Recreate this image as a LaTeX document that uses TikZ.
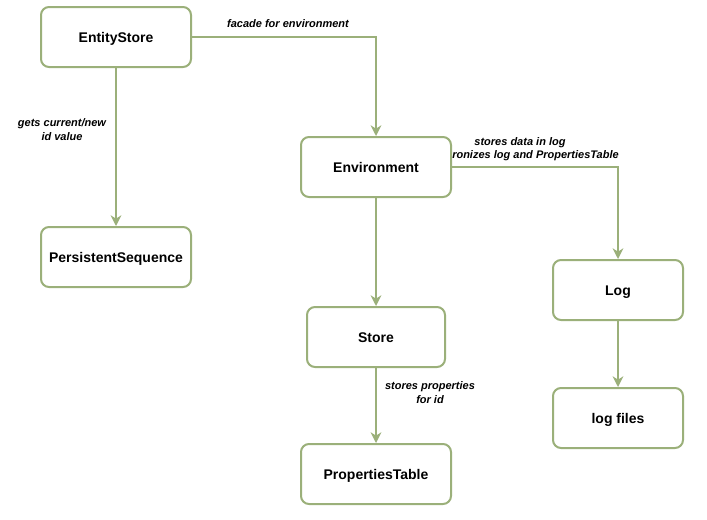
\documentclass[tikz,border=0pt]{standalone}
\usepackage{fontspec}
\setmainfont{Liberation Sans}
\usepackage{xcolor}
\usetikzlibrary{arrows.meta,positioning}

\definecolor{boxgreen}{RGB}{155,176,122}
\tikzset{
  box/.style={draw=boxgreen,line width=1.5pt,rounded corners=6pt,fill=white,align=center,
    font=\fontsize{10.5}{12}\selectfont\bfseries,inner sep=0pt,text height=7.5pt,text depth=0pt,
    minimum width=112.5pt,minimum height=45pt},
  link/.style={draw=boxgreen,line width=1.5pt,-{Stealth[length=8pt,width=8pt,inset=2.5pt]}},
  lbl/.style={font=\fontsize{8.25}{10.5}\selectfont\bfseries\itshape,align=center,inner sep=0pt}
}

\begin{document}
\begin{tikzpicture}[x=0.75pt,y=-0.75pt]
\useasboundingbox (0,0) rectangle (707,519);
\node[box] (entity) at (116,37) {EntityStore};
\node[box] (pseq) at (116,257) {PersistentSequence};
\node[box] (env) at (376,167) {Environment};
\node[box,minimum width=103.5pt] (store) at (376,337) {Store};
\node[box] (ptable) at (376,474) {PropertiesTable};
\node[box,minimum width=97.5pt] (log) at (618,290) {Log};
\node[box,minimum width=97.5pt] (logfiles) at (618,418) {log files};

\draw[link] (entity) -| (env);
\draw[link] (entity) -- (pseq);
\draw[link] (env) -- (store);
\draw[link] (env) -| (log);
\draw[link] (store) -- (ptable);
\draw[link] (log) -- (logfiles);

\node[lbl] (facade) at (288,24) {facade for environment};
\node[lbl] (gets) at (62,130) {gets current/new\\id value};
\node[lbl] (storeslog) at (520,143) {stores data in log};
\node[lbl,anchor=west] (sync) at (452,156) {ronizes log and PropertiesTable};
\node[lbl] (storesprop) at (430,393) {stores properties\\for id};
\end{tikzpicture}
\end{document}
